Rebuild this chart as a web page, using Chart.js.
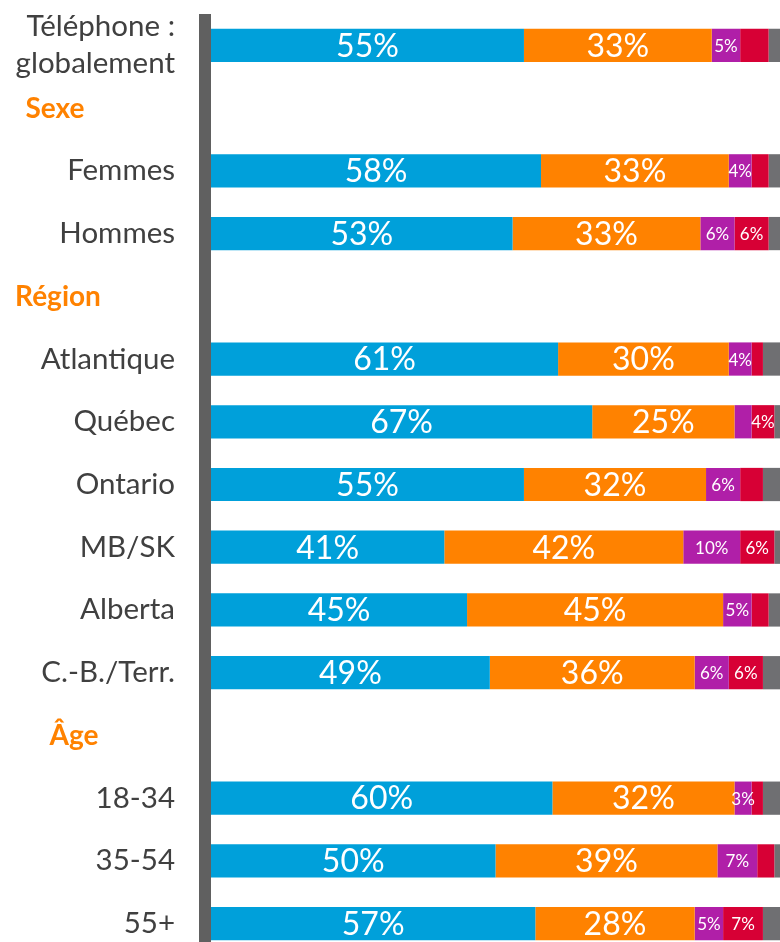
<!DOCTYPE html>
<html lang="fr">
<head>
<meta charset="utf-8">
<title>Téléphone : globalement</title>
<script src="https://cdn.jsdelivr.net/npm/chart.js@4/dist/chart.umd.min.js"></script>
<style>
    html, body { margin: 0; padding: 0; background: #fff; overflow: hidden; }
    #wrap { position: relative; width: 780px; height: 955px; }
</style>
</head>
<body>
<div id="wrap"><canvas id="chart"></canvas></div>
<script>
// rows of the chart (header rows have no bars)
const categories = [
    ["Téléphone :", "globalement"], "Sexe", "Femmes", "Hommes", "Région",
    "Atlantique", "Québec", "Ontario", "MB/SK", "Alberta", "C.-B./Terr.",
    "Âge", "18-34", "35-54", "55+"
];
const headerRows = ["Sexe", "Région", "Âge"];

const seriesNames = ["Très satisfait", "Plutôt satisfait", "Plutôt insatisfait", "Très insatisfait", "Ne sait pas"];
const blueValues   = [55, null, 58, 53, null, 61, 67, 55, 41, 45, 49, null, 60, 50, 57];
const orangeValues = [33, null, 33, 33, null, 30, 25, 32, 42, 45, 36, null, 32, 39, 28];
const purpleValues = [5, null, 4, 6, null, 4, 3, 6, 10, 5, 6, null, 3, 7, 5];
const redValues    = [5, null, 3, 6, null, 2, 4, 4, 6, 3, 6, null, 2, 3, 7];
const grayValues   = [2, null, 2, 2, null, 3, 1, 3, 1, 2, 3, null, 3, 1, 3];

// which small segments carry a label in the original
const purpleHiddenRows = ["Québec"];
const redLabelRows = ["Hommes", "Québec", "MB/SK", "C.-B./Terr.", "55+"];

const colors = ["#00a0da", "#ff8200", "#b01fa8", "#d70035", "#6f6f72"];
const FONT = "Lato, 'Open Sans', sans-serif";

function rowName(i) {
    const c = categories[i];
    return Array.isArray(c) ? c.join(" ") : c;
}

function labelVisible(dsIndex, i) {
    const name = rowName(i);
    if (dsIndex <= 1) return true;
    if (dsIndex === 2) return !purpleHiddenRows.includes(name);
    if (dsIndex === 3) return redLabelRows.includes(name);
    return false;
}

// white percentage labels in the bars
const barLabels = {
    id: "barLabels",
    afterDatasetsDraw(chart) {
        const ctx = chart.ctx;
        ctx.save();
        ctx.fillStyle = "#ffffff";
        ctx.textAlign = "center";
        ctx.textBaseline = "middle";
        chart.data.datasets.forEach((ds, di) => {
            const meta = chart.getDatasetMeta(di);
            meta.data.forEach((bar, i) => {
                const v = ds.data[i];
                if (v == null || !labelVisible(di, i)) return;
                const size = di <= 1 ? 32 : 17;
                ctx.font = size + "px " + FONT;
                const cx = (bar.x + bar.base) / 2;
                ctx.fillText(v + "%", cx, bar.y + 1);
            });
        });
        ctx.restore();
    }
};

// thick grey axis line and the orange group headings
const axisAndHeaders = {
    id: "axisAndHeaders",
    afterDraw(chart) {
        const ctx = chart.ctx;
        const area = chart.chartArea;
        const y = chart.scales.y;
        ctx.save();
        ctx.fillStyle = "#606060";
        ctx.fillRect(area.left - 12, area.top, 12, area.bottom - area.top);

        const headerX = { "Sexe": 55, "Région": 58, "Âge": 74 };
        ctx.fillStyle = "#ff8200";
        ctx.font = "bold 28px " + FONT;
        ctx.textAlign = "center";
        ctx.textBaseline = "middle";
        headerRows.forEach(h => {
            const idx = categories.indexOf(h);
            ctx.fillText(h, headerX[h], y.getPixelForValue(idx) + 1);
        });
        ctx.restore();
    }
};

const datasets = [blueValues, orangeValues, purpleValues, redValues, grayValues].map((vals, k) => ({
    label: seriesNames[k],
    data: vals,
    backgroundColor: colors[k],
    borderWidth: 0,
    barPercentage: 0.53,
    categoryPercentage: 1
}));

new Chart(document.getElementById("chart"), {
    type: "bar",
    data: { labels: categories, datasets: datasets },
    options: {
        indexAxis: "y",
        responsive: true,
        maintainAspectRatio: false,
        animation: false,
        layout: { padding: { top: 14, right: 0, bottom: 0, left: 0 } },
        plugins: {
            legend: { display: false },
            tooltip: { enabled: false }
        },
        scales: {
            x: {
                stacked: true,
                min: 0,
                max: 100,
                display: false
            },
            y: {
                stacked: true,
                grid: { display: false, drawTicks: false },
                border: { display: false },
                afterFit(scale) {
                    scale.width = 211;
                    scale.paddingTop = 0;
                    scale.paddingBottom = 0;
                },
                ticks: {
                    autoSkip: false,
                    padding: 36,
                    color: "#404040",
                    font: { family: FONT, size: 29.5, lineHeight: 1.25 },
                    callback(value, index) {
                        const c = categories[index];
                        return headerRows.includes(c) ? "" : c;
                    }
                }
            }
        }
    },
    plugins: [barLabels, axisAndHeaders]
});
</script>
</body>
</html>
